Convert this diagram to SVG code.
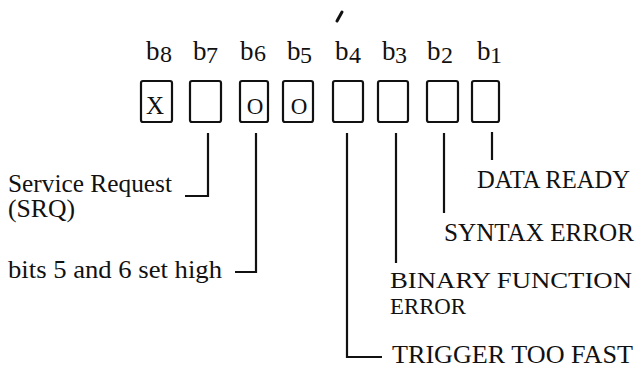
<svg xmlns="http://www.w3.org/2000/svg" width="637" height="367" viewBox="0 0 637 367">
<style>
.t{font-family:"Liberation Serif","Times New Roman",serif;fill:#111;}
.lbl{font-size:27px;}
.dg{font-size:24px;}
.txt{font-size:25px;}
.box{fill:#fff;stroke:#111;stroke-width:2.2;}
.ln{fill:none;stroke:#111;stroke-width:2.2;}
</style>
<rect width="637" height="367" fill="#fff"/>
<line x1="337" y1="21" x2="342" y2="12" stroke="#111" stroke-width="3" stroke-linecap="round"/>
<g id="bit-labels" class="t">
<text class="lbl" x="146" y="60">b</text><text class="dg" x="160" y="62">8</text>
<text class="lbl" x="193" y="60">b</text><text class="dg" x="206" y="63">7</text>
<text class="lbl" x="240" y="60">b</text><text class="dg" x="254" y="61">6</text>
<text class="lbl" x="287" y="60">b</text><text class="dg" x="300" y="63">5</text>
<text class="lbl" x="335" y="60">b</text><text class="dg" x="349" y="63">4</text>
<text class="lbl" x="382" y="60">b</text><text class="dg" x="395" y="63">3</text>
<text class="lbl" x="427" y="60">b</text><text class="dg" x="441" y="63">2</text>
<text class="lbl" x="477" y="60">b</text><text class="dg" x="490" y="63">1</text>
</g>
<g id="b8"><rect class="box" x="141" y="81" width="31" height="41" rx="2"/><text class="t" x="155" y="114" font-size="25" text-anchor="middle">X</text></g>
<g id="b7"><rect class="box" x="190" y="81" width="31" height="41" rx="2"/></g>
<g id="b6"><rect class="box" x="240" y="81" width="28" height="41" rx="2"/><text class="t" x="255" y="114" font-size="23" text-anchor="middle">O</text></g>
<g id="b5"><rect class="box" x="283" y="81" width="30" height="41" rx="2"/><text class="t" x="299" y="114" font-size="23" text-anchor="middle">O</text></g>
<g id="b4"><rect class="box" x="333" y="81" width="30" height="41" rx="2"/></g>
<g id="b3"><rect class="box" x="378" y="81" width="30" height="41" rx="2"/></g>
<g id="b2"><rect class="box" x="427" y="81" width="31" height="41" rx="2"/></g>
<g id="b1"><rect class="box" x="472" y="81" width="27" height="41" rx="2"/></g>
<g id="connectors" class="ln">
<polyline points="208,133 208,196 185,196"/>
<polyline points="256,133 256,272 235,272"/>
<polyline points="347,133 347,357 382,357"/>
<line x1="396" y1="133" x2="396" y2="263"/>
<line x1="444" y1="133" x2="444" y2="213"/>
<line x1="492" y1="132" x2="492" y2="160"/>
</g>
<g id="labels" class="t txt">
<text x="8" y="192" textLength="164" lengthAdjust="spacingAndGlyphs">Service Request</text>
<text x="8" y="217" textLength="67" lengthAdjust="spacingAndGlyphs">(SRQ)</text>
<text x="8" y="278" textLength="214" lengthAdjust="spacingAndGlyphs">bits 5 and 6 set high</text>
<text x="477" y="188" textLength="153" lengthAdjust="spacingAndGlyphs">DATA READY</text>
<text x="444" y="241" textLength="190" lengthAdjust="spacingAndGlyphs">SYNTAX ERROR</text>
<text x="390" y="288" font-size="23" textLength="242" lengthAdjust="spacingAndGlyphs">BINARY FUNCTION</text>
<text x="390" y="314" font-size="23" textLength="76" lengthAdjust="spacingAndGlyphs">ERROR</text>
<text x="392" y="363" textLength="241" lengthAdjust="spacingAndGlyphs">TRIGGER TOO FAST</text>
</g>
</svg>
